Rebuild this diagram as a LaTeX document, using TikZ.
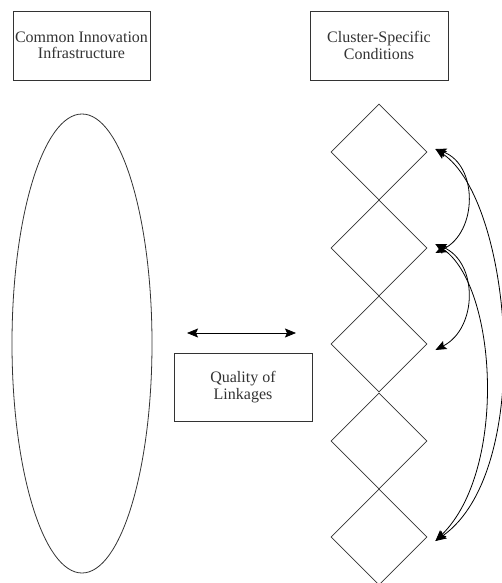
\documentclass[tikz,border=0pt]{standalone}
\usepackage{fontspec}
\setmainfont{Liberation Serif}
\usetikzlibrary{shapes.geometric,arrows.meta}
\definecolor{ink}{HTML}{333333}
\begin{document}
\begin{tikzpicture}[x=1pt,y=-1pt,
  line width=0.8pt,
  labelbox/.style={draw=ink,rectangle,minimum width=137pt,minimum height=69pt,
    inner sep=0pt,align=center,font=\fontsize{16}{16.5}\selectfont,text=ink},
  cell/.style={draw=ink,diamond,minimum width=96pt,minimum height=96pt,inner sep=0pt},
  tip/.style={Stealth[length=11pt,width=9pt,inset=2pt]},
  link/.style={draw=black,{Stealth[length=11pt,width=9pt,inset=2pt]}-{Stealth[length=11pt,width=9pt,inset=2pt]}}
]
\useasboundingbox (0,0) rectangle (502,583);

% headings
\node[labelbox] (infra) at (81.5,45.5) {Common Innovation\\Infrastructure};
\node[labelbox,minimum width=138pt] (cluster) at (379,45.5) {Cluster-Specific\\Conditions};

% common infrastructure
\node[draw=ink,ellipse,minimum width=140pt,minimum height=459pt,inner sep=0pt] (oval) at (82,343.5) {};

% linkages
\node[labelbox,minimum width=138pt,minimum height=68pt] (quality) at (243,387) {Quality of\\Linkages};
\coordinate (la) at (187,333);
\coordinate (lb) at (296,333);
\draw[link] (la) -- (lb);

% chain of clusters
\node[cell] (d1) at (379,152) {};
\node[cell] (d2) at (379,248) {};
\node[cell] (d3) at (379,344) {};
\node[cell] (d4) at (379,441) {};
\node[cell] (d5) at (379,537) {};

\coordinate (t1) at ([xshift=8pt,yshift=3pt]d1.east);
\coordinate (t2a) at ([xshift=8pt,yshift=-5pt]d2.east);
\coordinate (t2b) at ([xshift=8pt,yshift=4pt]d2.east);
\coordinate (t3) at ([xshift=8pt,yshift=-6pt]d3.east);
\coordinate (t5) at ([xshift=8pt,yshift=-4pt]d5.east);

\draw[link] (t1) .. controls (478,165) and (478,232) .. (t2a);
\draw[link] (t2b) .. controls (478,262) and (478,328) .. (t3);
\draw[link] (t1) .. controls (512,200) and (536,470) .. (t5);
\draw[link] (t2b) .. controls (497,285) and (508,470) .. (t5);
\end{tikzpicture}
\end{document}
